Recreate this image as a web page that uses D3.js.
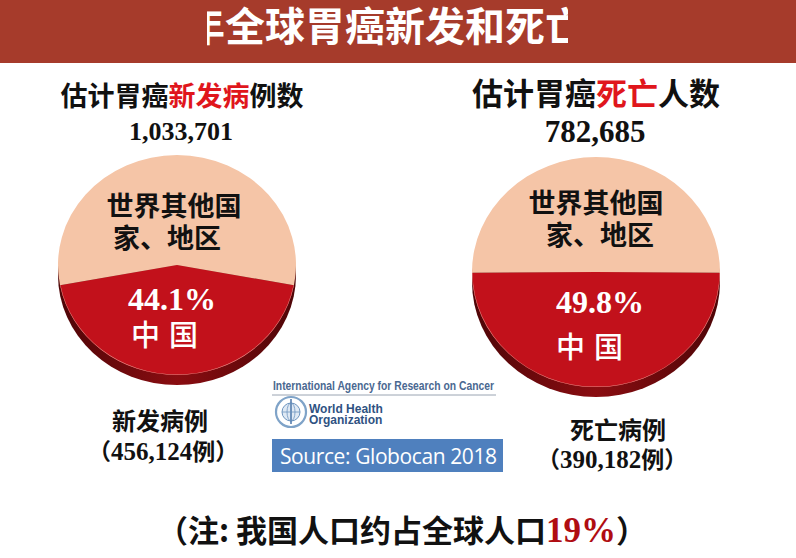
<!DOCTYPE html>
<html>
<head>
<meta charset="utf-8">
<script src="https://cdn.jsdelivr.net/npm/d3@7"></script>
<style>
  html, body { margin: 0; padding: 0; background: #fff; }
  svg { display: block; }
</style>
</head>
<body>
<svg id="chart"></svg>
<script>
// Data
const categories = ["中国", "世界其他国家、地区"];
const newCaseShare = [44.1, 55.9];      // % of global new cases
const deathShare = [49.8, 50.2];        // % of global deaths
const totals = [1033701, 782685];       // global new cases, global deaths
const chinaCounts = [456124, 390182];   // China new cases, China deaths
const populationShare = 19;             // China share of world population

const width = 796, height = 558;
const cjk = "'Noto Sans CJK SC', 'Noto Sans', sans-serif";
const serif = "'Liberation Serif', 'DejaVu Serif', serif";
const sans = "'Liberation Sans', Arial, sans-serif";
const fmt = d3.format(",");

const colorScale = d3.scaleOrdinal(categories, ["#c2111b", "#f5c5a7"]);

const svg = d3.select("#chart")
  .attr("width", width)
  .attr("height", height)
  .attr("viewBox", [0, 0, width, height]);

const defs = svg.append("defs");
const sideGrad = defs.append("linearGradient")
  .attr("id", "side").attr("x1", 0).attr("x2", 1).attr("y1", 0).attr("y2", 0);
sideGrad.append("stop").attr("offset", "0%").attr("stop-color", "#4e0507");
sideGrad.append("stop").attr("offset", "50%").attr("stop-color", "#8a0d11");
sideGrad.append("stop").attr("offset", "100%").attr("stop-color", "#4e0507");

// Title bar (title is cropped in the original slide)
svg.append("rect")
  .attr("width", width).attr("height", 63)
  .attr("fill", "#a63b2b");

defs.append("clipPath").attr("id", "titleClip")
  .append("rect").attr("x", 207).attr("y", 0).attr("width", 361).attr("height", 63);

svg.append("text")
  .attr("clip-path", "url(#titleClip)")
  .attr("x", 185).attr("y", 41)
  .attr("fill", "#fff")
  .style("font-family", cjk)
  .style("font-weight", "bold")
  .style("font-size", "40px")
  .text("年全球胃癌新发和死亡");

// Pies
const pies = [
  { values: newCaseShare, total: totals[0], china: chinaCounts[0], cx: 177, cy: 265, rx: 119, ry: 110,
    head: ["估计胃癌", "新发病", "例数"], headSize: 27, headY: 106, headX: 182,
    totalSize: 26, totalY: 140, totalX: 181,
    other: [[174, 216], [167, 248]], pct: [172, 310], cn: [169, 346],
    foot: "新发病例", footX: 160, footY: 430, countX: 163, countY: 460 },
  { values: deathShare, total: totals[1], china: chinaCounts[1], cx: 596, cy: 272, rx: 124, ry: 115,
    head: ["估计胃癌", "死亡", "人数"], headSize: 31, headY: 105, headX: 596,
    totalSize: 31, totalY: 142, totalX: 595,
    other: [[596, 213], [600, 245]], pct: [600, 313], cn: [594, 358],
    foot: "死亡病例", footX: 618, footY: 439, countX: 612, countY: 468 }
];

pies.forEach(p => {
  const share = p.values[0] / 100 * 2 * Math.PI;
  const start = Math.PI - share / 2;
  const pie = d3.pie().sort(null).startAngle(start).endAngle(start + 2 * Math.PI);
  const arcs = pie(p.values);
  const arc = d3.arc().innerRadius(0).outerRadius(p.rx);
  const k = p.ry / p.rx;

  // 3D side
  svg.append("ellipse")
    .attr("cx", p.cx).attr("cy", p.cy + 10)
    .attr("rx", p.rx).attr("ry", p.ry)
    .attr("fill", "url(#side)");

  const g = svg.append("g")
    .attr("transform", `translate(${p.cx},${p.cy}) scale(1,${k})`);

  g.selectAll("path")
    .data(arcs)
    .join("path")
    .attr("d", arc)
    .attr("fill", (d, i) => colorScale(categories[i]));

  // light rim along the red face
  g.append("path")
    .attr("d", d3.arc().innerRadius(p.rx - 0.5).outerRadius(p.rx)(arcs[0]))
    .attr("fill", "#f3b1a8")
    .attr("opacity", 0.8);

  // Headings
  const head = svg.append("text")
    .attr("x", p.headX).attr("y", p.headY)
    .attr("text-anchor", "middle")
    .style("font-family", cjk).style("font-weight", "bold")
    .style("font-size", p.headSize + "px");
  head.append("tspan").attr("fill", "#111").text(p.head[0]);
  head.append("tspan").attr("fill", "#e0161c").text(p.head[1]);
  head.append("tspan").attr("fill", "#111").text(p.head[2]);

  svg.append("text")
    .attr("x", p.totalX).attr("y", p.totalY)
    .attr("text-anchor", "middle")
    .attr("fill", "#111")
    .style("font-family", serif).style("font-weight", "bold")
    .style("font-size", p.totalSize + "px")
    .text(fmt(p.total));

  // Slice labels: "世界其他国 / 家、地区" as one two-line text
  const other = svg.append("text")
    .attr("text-anchor", "middle")
    .attr("fill", "#111")
    .style("font-family", cjk).style("font-weight", "bold")
    .style("font-size", "27px");
  ["世界其他国", "家、地区"].forEach((t, i) => {
    other.append("tspan")
      .attr("x", p.other[i][0]).attr("y", p.other[i][1])
      .text(t);
  });

  svg.append("text")
    .attr("x", p.pct[0]).attr("y", p.pct[1])
    .attr("text-anchor", "middle")
    .attr("fill", "#fff")
    .style("font-family", serif).style("font-weight", "bold")
    .style("font-size", "32px")
    .text(p.values[0].toFixed(1) + "%");

  svg.append("text")
    .attr("x", p.cn[0]).attr("y", p.cn[1])
    .attr("text-anchor", "middle")
    .attr("fill", "#fff")
    .style("font-family", cjk).style("font-weight", "500")
    .style("font-size", "29px")
    .style("letter-spacing", "9px")
    .text(categories[0]);

  // Footer counts
  const foot = svg.append("text")
    .attr("text-anchor", "middle")
    .attr("fill", "#111")
    .style("font-weight", "bold")
    .style("font-size", "24px");
  foot.append("tspan")
    .attr("x", p.footX).attr("y", p.footY)
    .style("font-family", cjk)
    .text(p.foot);
  const cnt = foot.append("tspan")
    .attr("x", p.countX).attr("y", p.countY)
    .style("font-size", "23px");
  cnt.append("tspan").style("font-family", cjk).text("（");
  cnt.append("tspan").style("font-family", serif).style("font-size", "25px").text(fmt(p.china));
  cnt.append("tspan").style("font-family", cjk).text("例）");
});

// IARC / WHO block
svg.append("text")
  .attr("x", 273).attr("y", 390)
  .attr("fill", "#4a6891")
  .style("font-family", sans)
  .style("font-weight", "bold")
  .style("font-size", "12px")
  .attr("textLength", 221)
  .attr("lengthAdjust", "spacingAndGlyphs")
  .text("International Agency for Research on Cancer");

svg.append("line")
  .attr("x1", 272).attr("x2", 496).attr("y1", 395).attr("y2", 395)
  .attr("stroke", "#9aa4b2").attr("stroke-width", 1);

const emblem = svg.append("g").attr("transform", "translate(291,412)");
emblem.append("circle").attr("r", 15).attr("fill", "none").attr("stroke", "#7fa3c8").attr("stroke-width", 2.2);
emblem.append("circle").attr("r", 9).attr("fill", "#dfe9f4").attr("stroke", "#6d94bf").attr("stroke-width", 1);
emblem.append("line").attr("x1", 0).attr("x2", 0).attr("y1", -13).attr("y2", 12).attr("stroke", "#4a75a8").attr("stroke-width", 1.5);
emblem.append("ellipse").attr("rx", 4).attr("ry", 9).attr("fill", "none").attr("stroke", "#6d94bf").attr("stroke-width", 0.8);
emblem.append("line").attr("x1", -9).attr("x2", 9).attr("y1", 0).attr("y2", 0).attr("stroke", "#6d94bf").attr("stroke-width", 0.8);

const who = svg.append("text")
  .attr("fill", "#2f5282")
  .style("font-family", sans)
  .style("font-weight", "bold")
  .style("font-size", "12px");
["World Health", "Organization"].forEach((t, i) => {
  who.append("tspan").attr("x", 309).attr("y", 413 + i * 11).text(t);
});

svg.append("rect")
  .attr("x", 272).attr("y", 439).attr("width", 231).attr("height", 33)
  .attr("fill", "#4f80be");
svg.append("text")
  .attr("x", 280).attr("y", 464)
  .attr("fill", "#fff")
  .style("font-family", "'Open Sans', 'Noto Sans', sans-serif")
  .style("font-size", "21px")
  .attr("textLength", 217)
  .text("Source: Globocan 2018");

// Note
const note = svg.append("text")
  .attr("x", 402).attr("y", 542)
  .attr("text-anchor", "middle")
  .attr("fill", "#111")
  .style("font-family", cjk).style("font-weight", "bold")
  .style("font-size", "31px");
note.append("tspan").text("（注: 我国人口约占全球人口");
note.append("tspan").attr("fill", "#b00d12").style("font-family", serif).style("font-size", "35px").text(populationShare + "%");
note.append("tspan").text("）");
</script>
</body>
</html>
